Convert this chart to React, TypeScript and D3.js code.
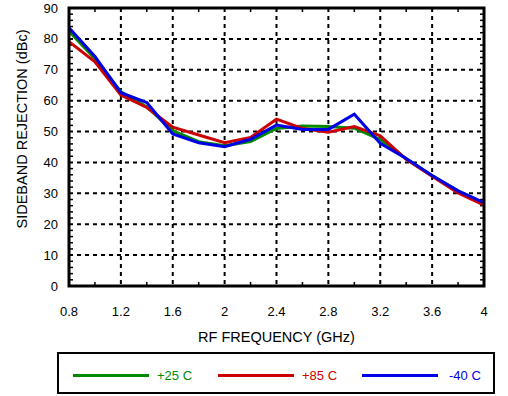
import React from "react";
import * as d3 from "d3";

const freqs = [0.8, 1.0, 1.2, 1.4, 1.6, 1.8, 2.0, 2.2, 2.4, 2.6, 2.8, 3.0, 3.2, 3.4, 3.6, 3.8, 4.0];
const t25 = [82.5, 73.6, 62.9, 58.0, 50.3, 46.7, 45.4, 46.8, 51.0, 51.8, 51.6, 51.1, 47.4, 41.2, 35.7, 30.8, 26.8];
const t85 = [79.1, 72.6, 61.8, 57.8, 51.4, 48.9, 46.4, 48.1, 54.0, 51.0, 49.8, 51.6, 48.6, 41.0, 35.5, 30.1, 26.2];
const tm40 = [83.6, 74.3, 62.6, 59.4, 49.2, 46.4, 45.1, 47.5, 52.1, 50.7, 50.7, 55.6, 46.2, 41.3, 35.8, 30.8, 27.0];

const xMajor = [0.8, 1.2, 1.6, 2.0, 2.4, 2.8, 3.2, 3.6, 4.0];
const xMinor = [1.0, 1.4, 1.8, 2.2, 2.6, 3.0, 3.4, 3.8];
const yMajor = [0, 10, 20, 30, 40, 50, 60, 70, 80, 90];
const yMinor = d3.range(2, 90, 2).filter((v) => v % 10 !== 0);

const series = [
  { name: "+25 C", values: t25, color: "#008a00" },
  { name: "+85 C", values: t85, color: "#cc0000" },
  { name: "-40 C", values: tm40, color: "#0000e6" },
];
const drawOrder = [0, 1, 2];

export default function App() {
  const W = 508, H = 396;
  const L = 69, R = 484, T = 8, B = 286;
  const x = d3.scaleLinear().domain([0.8, 4.0]).range([L, R]);
  const y = d3.scaleLinear().domain([0, 90]).range([B, T]);
  const line = d3
    .line<number>()
    .x((_, i) => x(freqs[i]))
    .y((d) => y(d));
  const font = "'Liberation Sans', Arial, Helvetica, sans-serif";
  const legendItems = [
    { lx: 73, tx: 157 },
    { lx: 218, tx: 302 },
    { lx: 362, tx: 449 },
  ];
  return (
    <svg width={W} height={H} style={{ position: "absolute", left: 0, top: 0, background: "#fff" }} fontFamily={font}>
      <rect x={0} y={0} width={W} height={H} fill="#fff" />
      {/* grid */}
      {xMajor.slice(1, -1).map((v) => (
        <line key={"gx" + v} x1={x(v)} x2={x(v)} y1={T} y2={B} stroke="#000" strokeWidth={2} strokeDasharray="4,4" />
      ))}
      {yMajor.slice(1, -1).map((v) => (
        <line key={"gy" + v} x1={L} x2={R} y1={y(v)} y2={y(v)} stroke="#000" strokeWidth={2} strokeDasharray="4,4" />
      ))}
      {/* minor ticks */}
      {yMinor.map((v) => (
        <g key={"my" + v}>
          <line x1={L} x2={L + 4} y1={y(v)} y2={y(v)} stroke="#000" strokeWidth={1.5} />
          <line x1={R - 4} x2={R} y1={y(v)} y2={y(v)} stroke="#000" strokeWidth={1.5} />
        </g>
      ))}
      {xMinor.map((v) => (
        <g key={"mx" + v}>
          <line x1={x(v)} x2={x(v)} y1={B} y2={B - 4} stroke="#000" strokeWidth={1.5} />
          <line x1={x(v)} x2={x(v)} y1={T} y2={T + 4} stroke="#000" strokeWidth={1.5} />
        </g>
      ))}
      {/* series */}
      {drawOrder.map((i) => (
        <path key={series[i].name} d={line(series[i].values) || ""} fill="none" stroke={series[i].color} strokeWidth={3} strokeLinejoin="miter" />
      ))}
      {/* frame */}
      <rect x={L} y={T} width={R - L} height={B - T} fill="none" stroke="#000" strokeWidth={3} />
      {/* tick labels */}
      {yMajor.map((v) => (
        <text key={"ty" + v} x={58} y={y(v)} dy="0.35em" textAnchor="end" fontSize={13} fill="#000">
          {v}
        </text>
      ))}
      {xMajor.map((v) => (
        <text key={"tx" + v} x={x(v)} y={316} textAnchor="middle" fontSize={13} fill="#000">
          {d3.format("~g")(v)}
        </text>
      ))}
      <text x={(L + R) / 2} y={342} textAnchor="middle" fontSize={14.5} fill="#000">
        RF FREQUENCY (GHz)
      </text>
      <text transform={`translate(27,${(T + B) / 2 - 18}) rotate(-90)`} textAnchor="middle" fontSize={14.5} fill="#000">
        SIDEBAND REJECTION (dBc)
      </text>
      {/* legend */}
      <rect x={58} y={353} width={436} height={40} fill="#fff" stroke="#000" strokeWidth={2} />
      {series.map((s, i) => (
        <g key={"lg" + s.name}>
          <line x1={legendItems[i].lx} x2={legendItems[i].lx + 76} y1={375.5} y2={375.5} stroke={s.color} strokeWidth={3} />
          <text x={legendItems[i].tx} y={380} fontSize={13} fill={s.color}>
            {s.name}
          </text>
        </g>
      ))}
    </svg>
  );
}
